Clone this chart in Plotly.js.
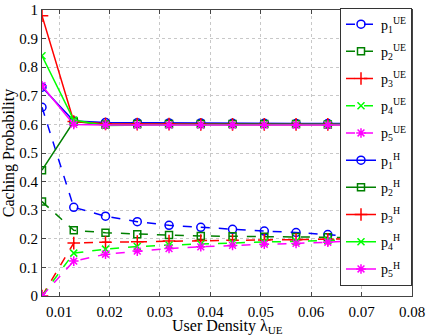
<!DOCTYPE html>
<html>
<head>
<meta charset="utf-8">
<script src="https://cdn.plot.ly/plotly-3.0.1.min.js"></script>
<style>body{margin:0}#myDiv{width:429px;height:335px}</style>
</head>
<body>
<div id="myDiv"></div>
<script>
var density = [0.0066, 0.0129, 0.0192, 0.0255, 0.0318, 0.0381, 0.0444, 0.0507, 0.057, 0.0633, 0.0696];

var p1UE = [0.66, 0.31, 0.279, 0.26, 0.247, 0.24, 0.233, 0.227, 0.222, 0.215, 0.207];
var p2UE = [0.33, 0.23, 0.221, 0.216, 0.213, 0.21, 0.209, 0.207, 0.206, 0.205, 0.204];
var p3UE = [0, 0.185, 0.188, 0.19, 0.192, 0.194, 0.195, 0.196, 0.197, 0.198, 0.2];
var p4UE = [0, 0.15, 0.164, 0.173, 0.178, 0.182, 0.186, 0.189, 0.191, 0.194, 0.198];
var p5UE = [0, 0.122, 0.146, 0.157, 0.166, 0.172, 0.177, 0.181, 0.184, 0.188, 0.195];

var p1H = [0.73, 0.612, 0.607, 0.606, 0.605, 0.605, 0.604, 0.604, 0.603, 0.603, 0.603];
var p2H = [0.44, 0.61, 0.6, 0.601, 0.601, 0.601, 0.601, 0.601, 0.601, 0.6, 0.6];
var p3H = [0.98, 0.61, 0.602, 0.601, 0.601, 0.6, 0.6, 0.6, 0.6, 0.6, 0.6];
var p4H = [0.84, 0.615, 0.596, 0.598, 0.599, 0.599, 0.599, 0.6, 0.6, 0.6, 0.6];
var p5H = [0.735, 0.6, 0.598, 0.598, 0.598, 0.598, 0.598, 0.598, 0.598, 0.598, 0.598];

var names = ["p<sub>1</sub><sup>UE</sup>", "p<sub>2</sub><sup>UE</sup>", "p<sub>3</sub><sup>UE</sup>",
  "p<sub>4</sub><sup>UE</sup>", "p<sub>5</sub><sup>UE</sup>",
  "p<sub>1</sub><sup>H</sup>", "p<sub>2</sub><sup>H</sup>", "p<sub>3</sub><sup>H</sup>",
  "p<sub>4</sub><sup>H</sup>", "p<sub>5</sub><sup>H</sup>"];
var colors = ["#0000ff", "#008000", "#ff0000", "#00ff00", "#ff00ff"];
var symbols = ["circle-open", "square-open", "cross-thin-open", "x-thin-open", "asterisk-open"];
var sizes = [8, 7, 9, 7, 8];

var ueSeries = [p1UE, p2UE, p3UE, p4UE, p5UE];
var hSeries = [p1H, p2H, p3H, p4H, p5H];

var data = [];
function addTrace(ys, i, dash, name, k) {
  data.push({
    x: density,
    y: ys,
    mode: "lines+markers",
    type: "scatter",
    name: name,
    legendgroup: "g" + k,
    line: { color: colors[i], width: 1.5, dash: dash },
    marker: { symbol: symbols[i], size: sizes[i], color: colors[i], line: { color: colors[i], width: 1.5 } }
  });
}
for (var i = 0; i < 5; i++) addTrace(ueSeries[i], i, "dash", names[i], i);
for (var i = 0; i < 5; i++) addTrace(hSeries[i], i, "solid", names[i + 5], i + 5);

var serif = "Liberation Serif, Times New Roman, serif";
var tickFnt = { family: serif, size: 15, color: "#000" };
var titleFnt = { family: serif, size: 16, color: "#000" };
var layout = {
  width: 429,
  height: 335,
  margin: { l: 42, r: 17, t: 9, b: 39 },
  paper_bgcolor: "#fff",
  plot_bgcolor: "#fff",
  font: tickFnt,
  showlegend: true,
  legend: {
    x: 1, xanchor: "right", y: 1.005, yanchor: "top",
    bgcolor: "#fff", bordercolor: "#333", borderwidth: 1,
    font: { family: serif, size: 14, color: "#000" },
    itemwidth: 30, tracegroupgap: 6, maxheight: 1
  },
  xaxis: {
    range: [0.0066, 0.08],
    dtick: 0.01, tick0: 0,
    ticks: "inside", ticklen: 4, tickcolor: "#444",
    showline: true, linecolor: "#444", linewidth: 1, mirror: "ticks",
    showgrid: true, gridcolor: "#c8c8c8", griddash: "dot", gridwidth: 1,
    zeroline: false,
    tickfont: tickFnt,
    ticklabelstandoff: 2,
    title: { text: "" }
  },
  yaxis: {
    range: [0, 1],
    dtick: 0.1,
    ticks: "inside", ticklen: 4, tickcolor: "#444",
    showline: true, linecolor: "#444", linewidth: 1, mirror: "ticks",
    showgrid: true, gridcolor: "#c8c8c8", griddash: "dot", gridwidth: 1,
    zeroline: false,
    tickfont: tickFnt,
    title: { text: "Caching Probability", font: titleFnt, standoff: 2 }
  },
  annotations: [{
    text: "User Density λ<sub>UE</sub>",
    xref: "paper", yref: "paper",
    x: 0.5, y: -0.106, xanchor: "center", yanchor: "middle",
    showarrow: false, font: titleFnt
  }]
};
Plotly.newPlot("myDiv", data, layout, { displayModeBar: false });
</script>
</body>
</html>
